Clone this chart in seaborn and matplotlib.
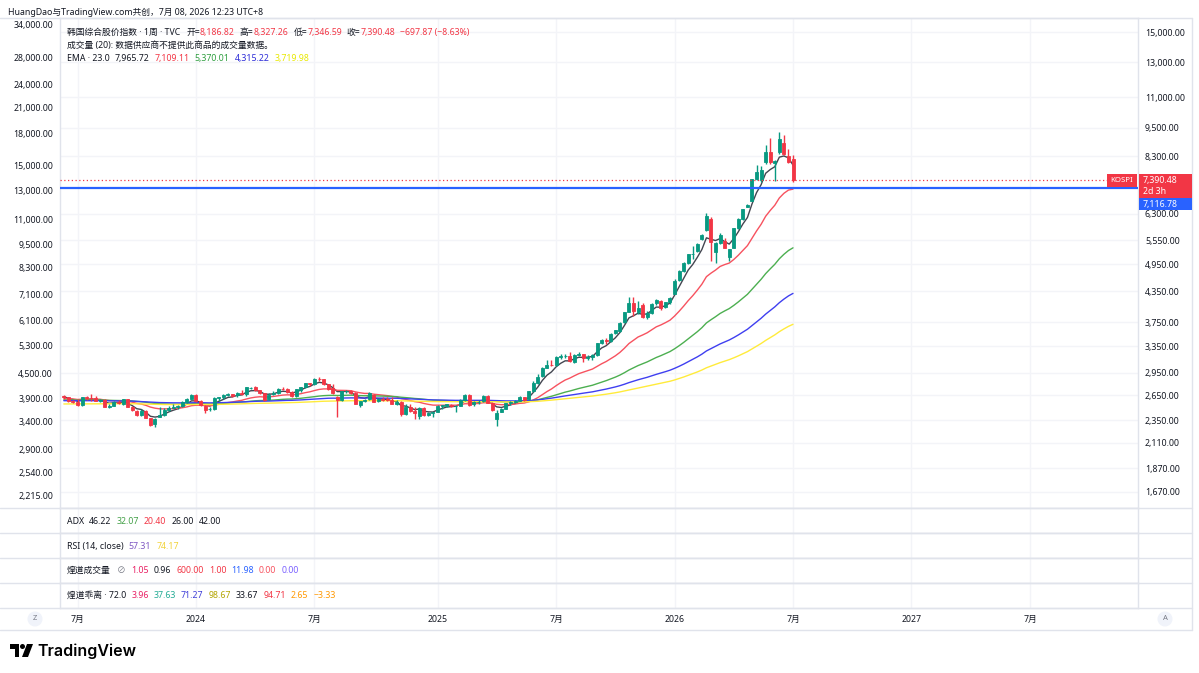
import numpy as np
import pandas as pd
import matplotlib.pyplot as plt
import matplotlib.patches as mpatches
from matplotlib.lines import Line2D
from matplotlib.ticker import NullLocator
import seaborn as sns

# weekly bars (Monday dates)
dates = pd.date_range("2023-06-12", "2026-07-06", freq="W-MON")

opens = [
    2640, 2620, 2570, 2568, 2530, 2625, 2612, 2610, 2578, 2590,
    2500, 2520, 2565, 2545, 2600, 2505, 2460, 2405, 2455, 2370,
    2305, 2390, 2410, 2470, 2495, 2505, 2520, 2565, 2600,
    # 2024
    2645, 2575, 2520, 2475, 2480, 2610, 2625, 2650, 2665, 2645,
    2680, 2665, 2745, 2750, 2715, 2675, 2600, 2660, 2680, 2725,
    2725, 2690, 2640, 2720, 2760, 2805, 2800, 2865, 2855, 2790,
    2735, 2625, 2590, 2700, 2700, 2680, 2530, 2580, 2600, 2650,
    2570, 2600, 2595, 2585, 2545, 2560, 2420, 2500, 2460, 2400,
    2490, 2410, 2430,
    # 2025
    2445, 2510, 2520, 2530, 2510, 2520, 2590, 2650, 2535, 2560,
    2570, 2640, 2550, 2360, 2450, 2485, 2550, 2560, 2580, 2620,
    2600, 2700, 2810, 2900, 3020, 3060, 3055, 3180, 3190, 3200,
    3100, 3210, 3220, 3170, 3180, 3210, 3400, 3450, 3430, 3560,
    3600, 3750, 3950, 4110, 3950, 4080, 3850, 3930, 4110, 4150,
    4030, 4130,
    # 2026
    4300, 4590, 4800, 4980, 5190, 5280, 5580, 5830, 6160, 5250,
    5480, 5530, 5120, 5360, 5880, 6160, 6520, 6710, 7430, 7390,
    8060, 8460, 8050, 8470, 8840, 8300, 8186.82,
]
highs = [
    2650, 2628, 2590, 2600, 2630, 2640, 2667, 2640, 2605, 2595,
    2535, 2575, 2590, 2605, 2605, 2520, 2465, 2480, 2465, 2380,
    2370, 2502, 2490, 2515, 2535, 2530, 2570, 2610, 2670,
    2670, 2590, 2530, 2500, 2620, 2630, 2660, 2680, 2670, 2690,
    2720, 2755, 2760, 2770, 2720, 2680, 2680, 2700, 2740, 2760,
    2740, 2700, 2730, 2760, 2810, 2810, 2870, 2896, 2860, 2800,
    2790, 2640, 2700, 2710, 2710, 2690, 2580, 2600, 2690, 2660,
    2610, 2620, 2620, 2620, 2590, 2570, 2535, 2540, 2500, 2500,
    2500, 2445, 2445,
    2530, 2530, 2545, 2540, 2530, 2595, 2670, 2660, 2580, 2590,
    2645, 2650, 2560, 2470, 2490, 2550, 2570, 2590, 2640, 2630,
    2700, 2830, 2930, 3030, 3130, 3140, 3190, 3220, 3230, 3260,
    3230, 3250, 3230, 3210, 3220, 3400, 3470, 3480, 3560, 3620,
    3760, 3950, 4230, 4230, 4160, 4120, 3960, 4110, 4200, 4170,
    4140, 4230,
    4620, 4820, 5000, 5210, 5400, 5480, 5720, 6320, 6200, 5500,
    5750, 5600, 5330, 5900, 6180, 6450, 6600, 7450, 7950, 7900,
    8750, 9050, 8150, 9325, 9200, 8600, 8327.26,
]
lows = [
    2605, 2562, 2550, 2510, 2515, 2590, 2580, 2575, 2560, 2500,
    2490, 2510, 2540, 2530, 2500, 2460, 2400, 2395, 2370, 2290,
    2270, 2390, 2400, 2460, 2490, 2480, 2500, 2555, 2595,
    2560, 2515, 2430, 2460, 2470, 2575, 2600, 2640, 2620, 2630,
    2650, 2640, 2730, 2700, 2670, 2580, 2590, 2650, 2670, 2710,
    2680, 2630, 2630, 2690, 2740, 2770, 2780, 2840, 2780, 2720,
    2670, 2386, 2580, 2680, 2660, 2540, 2500, 2560, 2590, 2560,
    2560, 2580, 2570, 2540, 2530, 2400, 2415, 2450, 2360, 2360,
    2400, 2400, 2390,
    2440, 2480, 2505, 2505, 2450, 2510, 2580, 2520, 2520, 2535,
    2560, 2550, 2460, 2284, 2440, 2480, 2530, 2550, 2570, 2580,
    2590, 2690, 2800, 2890, 3010, 3040, 3050, 3150, 3160, 3110,
    3090, 3190, 3110, 3140, 3140, 3200, 3380, 3380, 3420, 3550,
    3580, 3740, 3940, 3870, 3900, 3830, 3820, 3900, 4080, 3980,
    4010, 4100,
    4290, 4560, 4780, 4950, 5080, 5250, 5550, 5800, 5030, 4980,
    5450, 5340, 5020, 5340, 5850, 6130, 6500, 6700, 7400, 7350,
    8000, 8000, 7360, 8400, 8350, 8050, 7346.59,
]
closes = [
    2625, 2570, 2564, 2526, 2628, 2609, 2608, 2580, 2591, 2504,
    2519, 2563, 2548, 2601, 2508, 2465, 2408, 2456, 2375, 2302,
    2368, 2409, 2469, 2496, 2505, 2517, 2563, 2599, 2655,
    2578, 2525, 2473, 2478, 2615, 2620, 2648, 2667, 2642, 2680,
    2666, 2748, 2747, 2714, 2681, 2591, 2656, 2676, 2727, 2724,
    2687, 2636, 2722, 2758, 2807, 2797, 2862, 2857, 2795, 2731,
    2676, 2588, 2697, 2701, 2674, 2544, 2575, 2593, 2671, 2569,
    2596, 2593, 2583, 2542, 2561, 2416, 2501, 2455, 2428, 2494,
    2404, 2429, 2441,
    2515, 2523, 2536, 2517, 2521, 2591, 2654, 2532, 2563, 2566,
    2643, 2557, 2465, 2432, 2483, 2546, 2559, 2577, 2627, 2592,
    2697, 2812, 2894, 3021, 3055, 3054, 3175, 3188, 3196, 3119,
    3210, 3225, 3168, 3186, 3205, 3395, 3445, 3428, 3549, 3610,
    3748, 3941, 4107, 3953, 4011, 3853, 3926, 4100, 4167, 4020,
    4129, 4214,
    4580, 4800, 4990, 5190, 5210, 5460, 5700, 6230, 5500, 5480,
    5700, 5360, 5320, 5880, 6160, 6440, 6570, 7430, 7710, 7780,
    8460, 8060, 8100, 9000, 8400, 8088, 7390.48,
]

# EMA settings: spans and first values
ema_spans = [5, 20, 60, 120, 200]
ema_start = [2630, 2610, 2590, 2580, 2540]
ema_colors = ["#434651", "#f7525f", "#4caf50", "#3f3ff0", "#ffeb3b"]

hline_price = 7116.78

right_ticks = [1670, 1870, 2110, 2350, 2650, 2950, 3350, 3750, 4350, 4950,
               5550, 6300, 8300, 9500, 11000, 13000, 15000]
left_ticks = [2215, 2540, 2900, 3400, 3900, 4500, 5300, 6100, 7100, 8300,
              9500, 11000, 13000, 15000, 18000, 21000, 24000, 28000, 34000]
time_ticks = ["2023-07-03", "2024-01-01", "2024-07-01", "2025-01-06", "2025-07-07",
              "2026-01-05", "2026-07-06", "2027-01-04", "2027-07-05"]
time_labels = ["7月", "2024", "7月", "2025", "7月", "2026", "7月", "2027", "7月"]

DARK = "#131722"
RED = "#f23645"
GREEN = "#089981"
BLUE = "#2962ff"
BORDER = "#e0e3eb"
GRID = "#f3f4f8"
FS = 6.3

sns.set_theme(style="white")
plt.rcParams["font.family"] = ["Noto Sans", "Noto Sans CJK SC", "DejaVu Sans"]

W, H = 1199, 673
fig = plt.figure(figsize=(W / 100, H / 100), dpi=100)
fig.patch.set_facecolor("white")
renderer = fig.canvas.get_renderer()

base = pd.Timestamp("2024-01-01")
idx = ((dates - base).days / 7).to_numpy()
tpos = [(pd.Timestamp(d) - base).days / 7 for d in time_ticks]
XL = (-29.84, 206.7)


def add_ax(x0, y0, x1, y1):
    a = fig.add_axes([x0 / W, 1 - y1 / H, (x1 - x0) / W, (y1 - y0) / H])
    a.set_xlim(*XL)
    a.set_facecolor("white")
    for sp in a.spines.values():
        sp.set_color(BORDER)
        sp.set_linewidth(1)
    return a


def ema(values, span, start):
    alpha = 2 / (span + 1)
    out = [start]
    for v in values[1:]:
        out.append(out[-1] + alpha * (v - out[-1]))
    return out


def legend_line(x, y, parts, size=FS):
    for s, col, gap in parts:
        x += gap
        t = fig.text(x / W, 1 - y / H, s, color=col, fontsize=size, va="baseline")
        x += t.get_window_extent(renderer).width


# main price pane
ax = add_ax(60, 18, 1138, 508)
ax.set_yscale("log")
ax.set_ylim(1545, 16060)
ax.set_xticks(tpos)
ax.tick_params(axis="x", labelbottom=False, length=0)
ax.grid(True, color=GRID, lw=1)
ax.set_axisbelow(True)

o = np.array(opens)
h = np.array(highs)
l = np.array(lows)
c = np.array(closes)
col = np.where(c >= o, GREEN, RED)
ax.vlines(idx, l, h, colors=col, lw=1, zorder=3)
ax.bar(idx, np.abs(c - o), bottom=np.minimum(o, c), width=0.66, color=col,
       edgecolor=col, lw=0.6, zorder=4)

for span, start, color in zip(ema_spans, ema_start, ema_colors):
    vals = ema(closes, span, start)
    sns.lineplot(x=idx, y=vals, ax=ax, color=color, lw=1, zorder=2)

ax.axhline(hline_price, color=BLUE, lw=1.6, zorder=5)
ax.axhline(closes[-1], xmax=(1107 - 60) / 1078, color=RED, lw=0.9, ls=(0, (1, 2)), zorder=5)

# left scale (twin), then the price scale goes to the right
axl = ax.twinx()
axl.set_yscale("log")
axl.set_ylim(2065, 35210)
axl.set_yticks(left_ticks)
axl.set_yticklabels([f"{v:,.2f}" for v in left_ticks])
axl.yaxis.set_minor_locator(NullLocator())
axl.yaxis.tick_left()
axl.tick_params(axis="y", length=0, pad=5, labelsize=FS, labelcolor=DARK)
axl.grid(False)
for sp in axl.spines.values():
    sp.set_visible(False)

ax.set_yticks(right_ticks)
ax.set_yticklabels([f"{v:,.2f}" for v in right_ticks])
ax.yaxis.set_minor_locator(NullLocator())
ax.yaxis.tick_right()
ax.tick_params(axis="y", length=0, pad=5, labelsize=FS, labelcolor=DARK)

# price labels on the right scale
y_last = ax.transData.transform((0, closes[-1]))[1]
for y0, y1, fc in [(y_last - 18, y_last + 6, RED), (y_last - 30, y_last - 18, BLUE)]:
    fig.add_artist(mpatches.Rectangle((1139 / W, y0 / H), 53 / W, (y1 - y0) / H,
                                      fc=fc, ec="none", zorder=10))
fig.text(1143 / W, y_last / H, f"{closes[-1]:,.2f}", color="white", fontsize=FS,
         va="center", zorder=11)
fig.text(1143 / W, (y_last - 11.5) / H, "2d 3h", color="white", fontsize=FS,
         va="center", zorder=11)
fig.text(1143 / W, (y_last - 24) / H, f"{hline_price:,.2f}", color="white", fontsize=FS,
         va="center", zorder=11)
fig.add_artist(mpatches.Rectangle((1107 / W, (y_last - 6.5) / H), 30 / W, 13 / H,
                                  fc=RED, ec="none", zorder=10))
fig.text(1122 / W, y_last / H, "KOSPI", color="white", fontsize=5.6, ha="center",
         va="center", zorder=11)

# indicator panes (collapsed)
for y0 in [508, 533, 558, 583]:
    p = add_ax(60, y0, 1138, y0 + 25)
    p.set_xticks(tpos)
    p.set_yticks([])
    p.tick_params(axis="x", labelbottom=False, length=0)
    p.grid(True, axis="x", color=GRID, lw=1)

# time axis
axt = add_ax(60, 608, 1138, 630)
axt.axis("off")
for pos, lab in zip(tpos, time_labels):
    axt.text(pos, 0.5, lab, transform=axt.get_xaxis_transform(), ha="center",
             va="center", fontsize=FS, color=DARK,
             fontweight="bold" if lab.isdigit() else "normal")

# frame lines
for yy in [18, 508, 533, 558, 583, 608, 630]:
    fig.add_artist(Line2D([0, 1192 / W], [1 - yy / H] * 2, color=BORDER, lw=1))
fig.add_artist(Line2D([1192 / W] * 2, [1 - 18 / H, 1 - 630 / H], color=BORDER, lw=1))

for xx, s in [(35, "Z"), (1165, "A")]:
    fig.add_artist(mpatches.Ellipse((xx / W, 1 - 619 / H), 15 / W, 15 / H,
                                    fc="#f0f3fa", ec="none"))
    fig.text(xx / W, 1 - 619 / H, s, ha="center", va="center", fontsize=5.5, color="#787b86")

# header and legends
legend_line(8, 15, [("HuangDao与TradingView.com共创，7月 08, 2026 12:23 UTC+8", DARK, 0)])
legend_line(67, 35, [
    ("韩国综合股价指数 · 1周 · TVC", DARK, 0),
    ("开=", DARK, 6), ("8,186.82", RED, 0),
    ("高=", DARK, 5), ("8,327.26", RED, 0),
    ("低=", DARK, 5), ("7,346.59", RED, 0),
    ("收=", DARK, 5), ("7,390.48", RED, 0),
    ("−697.87 (−8.63%)", RED, 5),
])
legend_line(67, 48, [("成交量 (20): 数据供应商不提供此商品的成交量数据。", DARK, 0)])
legend_line(67, 61, [
    ("EMA · 23.0", DARK, 0), ("7,965.72", DARK, 5), ("7,109.11", RED, 5),
    ("5,370.01", "#2e9e3e", 5), ("4,315.22", "#2b2bd8", 5), ("3,719.98", "#e8e800", 5),
])
legend_line(67, 524, [
    ("ADX", DARK, 0), ("46.22", DARK, 5), ("32.07", "#43a047", 5),
    ("20.40", RED, 5), ("26.00", DARK, 5), ("42.00", DARK, 5),
])
legend_line(67, 549, [
    ("RSI (14, close)", DARK, 0), ("57.31", "#7e57c2", 5), ("74.17", "#f2d33a", 5),
])
legend_line(67, 573, [
    ("煌道成交量", DARK, 0), ("⊘", "#787b86", 6), ("1.05", "#e91e63", 6),
    ("0.96", DARK, 5), ("600.00", RED, 5), ("1.00", RED, 5), ("11.98", BLUE, 5),
    ("0.00", "#f7525f", 5), ("0.00", "#7b61ff", 5),
])
legend_line(67, 598, [
    ("煌道乖离 · 72.0", DARK, 0), ("3.96", "#e91e63", 5), ("37.63", "#22ab94", 5),
    ("71.27", "#3f3fd8", 5), ("98.67", "#b3a400", 5), ("33.67", DARK, 5),
    ("94.71", RED, 5), ("2.65", "#ff9800", 5), ("−3.33", "#ff9800", 5),
])

# TradingView logo
fig.add_artist(mpatches.Polygon([(10 / W, 1 - 644 / H), (19 / W, 1 - 644 / H), (19 / W, 1 - 657 / H),
                                 (14.5 / W, 1 - 657 / H), (14.5 / W, 1 - 648.5 / H), (10 / W, 1 - 648.5 / H)],
                                closed=True, fc="black", ec="none"))
fig.add_artist(mpatches.Ellipse((22.5 / W, 1 - 646.5 / H), 5 / W, 5 / H, fc="black", ec="none"))
fig.add_artist(mpatches.Polygon([(27 / W, 1 - 644 / H), (33 / W, 1 - 644 / H), (28 / W, 1 - 657 / H),
                                 (22 / W, 1 - 657 / H)], closed=True, fc="black", ec="none"))
fig.text(37 / W, 1 - 656 / H, "TradingView", fontsize=11.5, fontweight="semibold",
         color="black", va="baseline", family=["Inter", "DejaVu Sans"])

fig.savefig("out.png", dpi=100, facecolor="white")
